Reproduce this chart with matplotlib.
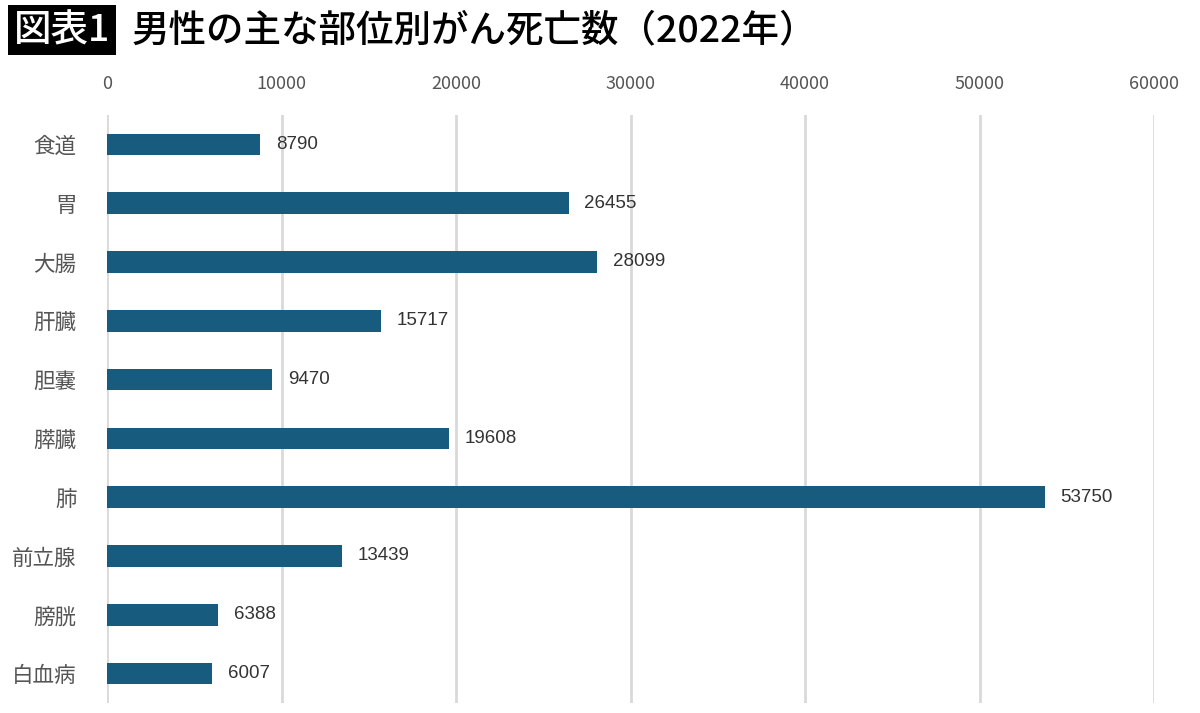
import matplotlib.pyplot as plt

plt.rcParams['font.family'] = ['Noto Sans CJK JP', 'DejaVu Sans']

sites = ["食道", "胃", "大腸", "肝臓", "胆嚢", "膵臓", "肺", "前立腺", "膀胱", "白血病"]
deaths = [8790, 26455, 28099, 15717, 9470, 19608, 53750, 13439, 6388, 6007]
xticks = [0, 10000, 20000, 30000, 40000, 50000, 60000]

fig = plt.figure(figsize=(12, 7.13), dpi=100)
ax = fig.add_axes([107 / 1200, 10 / 713, (1154 - 107) / 1200, 588 / 713])

y = list(range(len(sites)))
ax.barh(y, deaths, height=0.37, color="#175c7e", zorder=3)
for yi, v in zip(y, deaths):
    ax.text(v + 900, yi, str(v), va="center", ha="left", fontsize=13.5,
            color="#333333", family=["Liberation Sans", "DejaVu Sans"])

ax.set_xlim(0, 60000)
ax.set_ylim(len(sites) - 0.5, -0.5)
ax.set_yticks(y)
ax.set_yticklabels(sites, fontsize=15.5, color="#555555")
ax.set_xticks(xticks)
ax.set_xticklabels([str(t) for t in xticks], fontsize=13, color="#555555")
ax.xaxis.tick_top()
ax.tick_params(axis="x", length=0, pad=16)
ax.tick_params(axis="y", length=0, pad=22)
ax.grid(axis="x", color="#d9d9d9", linewidth=2, zorder=0)
for s in ax.spines.values():
    s.set_visible(False)

# title with black badge
fig.text(14 / 1200, 1 - 30 / 713, "図表1", fontsize=27, fontweight="medium", color="white",
         va="center", ha="left",
         bbox=dict(boxstyle="square,pad=0.15", facecolor="black", edgecolor="none"))
fig.text(132 / 1200, 1 - 30 / 713, "男性の主な部位別がん死亡数（2022年）", fontsize=27,
         fontweight="medium", color="black", va="center", ha="left")

fig.savefig("out.png", dpi=100)
